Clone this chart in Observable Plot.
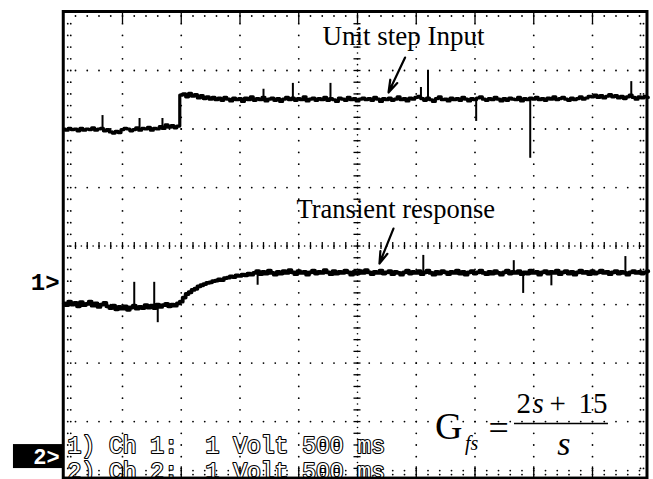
<!DOCTYPE html>
<html><head><meta charset="utf-8">
<script src="https://cdn.jsdelivr.net/npm/d3@7"></script>
<script src="https://cdn.jsdelivr.net/npm/@observablehq/plot@0.6"></script>
<style>
html,body{margin:0;padding:0;background:#fff;}
#chart svg{display:block;}
svg text{white-space:pre;}
</style>
</head><body><div id="chart"></div>
<script>
// ---- scope settings ----
const sampleInterval = 0.025;         // s between samples
const timeDivisions = [0,0.5,1,1.5,2,2.5,3,3.5,4,4.5,5]; // s, 500 ms/div
const voltDivisions = [-4,-3,-2,-1,0,1,2,3,4];           // V, 1 V/div

// ---- Ch 1 : unit step input (V) ----
const inputTrace = [
  2.00,1.98,2.01,1.99,2.00,1.97,2.01,1.98,2.00,1.99,
  2.02,1.98,2.00,2.01,1.97,1.99,1.95,1.93,1.96,1.94,
  1.99,2.01,2.00,1.97,1.99,2.02,1.98,2.01,2.00,2.03,
  1.98,2.01,2.00,2.04,2.01,2.07,2.03,2.06,2.02,2.05,
  2.58,2.60,2.55,2.61,2.56,2.59,2.53,2.57,2.52,2.55,
  2.51,2.54,2.50,2.53,2.49,2.54,2.51,2.48,2.53,2.50,
  2.52,2.47,2.53,2.50,2.55,2.49,2.52,2.50,2.54,2.48,
  2.51,2.53,2.49,2.52,2.47,2.51,2.54,2.50,2.53,2.49,
  2.52,2.50,2.55,2.48,2.51,2.53,2.49,2.52,2.50,2.54,
  2.49,2.52,2.50,2.47,2.53,2.51,2.49,2.54,2.50,2.52,
  2.48,2.51,2.53,2.50,2.52,2.49,2.54,2.51,2.47,2.52,
  2.50,2.53,2.49,2.51,2.55,2.50,2.52,2.48,2.53,2.51,
  2.54,2.56,2.52,2.49,2.53,2.50,2.47,2.52,2.55,2.50,
  2.51,2.48,2.53,2.50,2.52,2.49,2.54,2.51,2.48,2.52,
  2.50,2.53,2.55,2.51,2.49,2.52,2.50,2.54,2.51,2.48,
  2.52,2.49,2.53,2.51,2.50,2.54,2.48,2.52,2.50,2.53,
  2.51,2.54,2.50,2.52,2.49,2.53,2.51,2.55,2.50,2.52,
  2.54,2.51,2.49,2.53,2.50,2.52,2.55,2.51,2.53,2.56,
  2.55,2.58,2.54,2.57,2.53,2.56,2.59,2.55,2.57,2.53,
  2.56,2.52,2.55,2.58,2.54,2.51,2.55,2.53,2.56,2.54
];
const inputSpikeTimes = [0.33,0.645,0.84,1.70,1.95,2.27,3.04,3.10,3.51,3.97,4.83];
const inputSpikeTips  = [2.23,2.18,2.18,2.68,2.78,2.78,2.71,3.00,2.13,1.50,2.81];

// ---- Ch 2 : transient response (V) ----
const responseTrace = [
  -0.98,-1.01,-0.95,-1.00,-0.97,-1.03,-0.96,-1.01,-0.99,-0.95,
  -1.02,-0.98,-1.04,-1.00,-0.97,-1.03,-1.06,-1.02,-1.08,-1.04,
  -1.07,-1.03,-1.09,-1.05,-1.02,-1.07,-1.04,-1.06,-1.01,-1.05,
  -1.02,-1.06,-1.00,-1.04,-1.01,-0.99,-1.03,-1.00,-1.02,-0.98,
  -0.95,-0.88,-0.82,-0.79,-0.75,-0.73,-0.69,-0.67,-0.65,-0.63,
  -0.62,-0.60,-0.59,-0.57,-0.58,-0.55,-0.54,-0.52,-0.53,-0.50,
  -0.51,-0.49,-0.50,-0.47,-0.49,
  -0.46,-0.43,-0.48,-0.44,-0.47,-0.42,-0.46,-0.49,-0.44,-0.47,
  -0.43,-0.46,-0.41,-0.45,-0.48,-0.43,-0.46,-0.44,-0.49,-0.45,
  -0.42,-0.47,-0.44,-0.46,-0.41,-0.45,-0.48,-0.43,-0.47,-0.44,
  -0.46,-0.42,-0.45,-0.49,-0.44,-0.47,-0.43,-0.46,-0.41,-0.45,
  -0.48,-0.44,-0.46,-0.42,-0.47,-0.45,-0.43,-0.48,-0.44,-0.46,
  -0.49,-0.45,-0.42,-0.47,-0.44,-0.46,-0.43,-0.48,-0.45,-0.42,
  -0.46,-0.49,-0.44,-0.47,-0.43,-0.45,-0.48,-0.44,-0.46,-0.42,
  -0.47,-0.44,-0.49,-0.45,-0.43,-0.47,-0.45,-0.42,-0.46,-0.48,
  -0.44,-0.47,-0.43,-0.46,-0.49,-0.45,-0.42,-0.47,-0.44,-0.46,
  -0.43,-0.48,-0.45,-0.47,-0.42,-0.46,-0.44,-0.49,-0.45,-0.43,
  -0.47,-0.44,-0.46,-0.42,-0.48,-0.45,-0.43,-0.47,-0.44,-0.49,
  -0.45,-0.42,-0.46,-0.44,-0.48,-0.43,-0.47,-0.45,-0.42,-0.46,
  -0.44,-0.48,-0.45,-0.43,-0.47,-0.44,-0.46,-0.49,-0.45,-0.43,
  -0.46,-0.44,-0.47,-0.45,-0.43
];
const responseSpikeTimes = [0.60,0.77,0.80,1.65,3.06,3.83,3.91,4.15,4.78];
const responseSpikeTips  = [-0.62,-0.62,-1.31,-0.67,-0.16,-0.25,-0.81,-0.68,-0.18];

// ---- texts ----
const annotationTexts = ["Unit step Input","Transient response"];
const channelLabels = ["1) Ch 1:  1 Volt 500 ms","2) Ch 2:  1 Volt 500 ms"];
const channelMarkers = ["1>","2>"];
const formulaParts = {G:"G", sub:"fs", eq:"=", num:["2","s","+","15"], den:"s"};

// ---- build tables ----
const toSeries = arr => arr.map((v,i)=>({t:i*sampleInterval, v}));
const inputData = toSeries(inputTrace);
const responseData = toSeries(responseTrace);
const baseAt = (arr,t) => arr[Math.min(arr.length-1, Math.floor(t/sampleInterval))];
const inputSpikes = inputSpikeTimes.map((t,i)=>({t, y1: baseAt(inputTrace,t), y2: inputSpikeTips[i]}));
const responseSpikes = responseSpikeTimes.map((t,i)=>({t, y1: baseAt(responseTrace,t), y2: responseSpikeTips[i]}));

const tMin = timeDivisions[0], tMax = timeDivisions[timeDivisions.length-1];
const vMin = voltDivisions[0], vMax = voltDivisions[voltDivisions.length-1];
const frameRight = 4.968, frameBottom = -3.974;
const minorT = 0.1, minorV = 0.2;
const tMinors = d3.range(1, Math.round((frameRight - tMin)/minorT)+1).map(i=>+(i*minorT).toFixed(3)).filter(t=>t<frameRight);
const vMinors = d3.range(0, Math.round((vMax-vMin)/minorV)+1).map(j=>+(vMin+j*minorV).toFixed(3)).filter(v=>v>frameBottom && v<vMax);
const majorT = timeDivisions.filter(t=>t>tMin && t<frameRight);
const majorV = voltDivisions.filter(v=>v>vMin && v<vMax);

const gridDots = [];
for (const t of majorT) for (const v of vMinors) gridDots.push({t, v});
for (const v of majorV) for (const t of tMinors) gridDots.push({t, v});
const centerT = 2.5, centerV = 0;
const centerDots = [];
for (const v of vMinors) centerDots.push({t:centerT, v: v+minorV/2});
for (const t of tMinors) centerDots.push({t: t-minorT/2, v:centerV});

const serif = "Liberation Serif";
const chart = Plot.plot({
  width: 653, height: 479,
  marginLeft: 63.25, marginRight: 2.25, marginTop: 11.5, marginBottom: 0,
  x: {domain:[tMin,tMax], axis:null},
  y: {domain:[-3.99,vMax], axis:null},
  style: {background:"white"},
  marks: [
    // grid
    Plot.dot(gridDots, {x:"t", y:"v", r:0.9, fill:"black"}),
    Plot.dot(centerDots, {x:"t", y:"v", r:0.8, fill:"black"}),
    Plot.ruleY(vMinors, {y:d=>d, x1:centerT-0.03, x2:centerT+0.03, stroke:"black", strokeWidth:1.3}),
    Plot.ruleX(tMinors, {x:d=>d, y1:centerV-0.06, y2:centerV+0.06, stroke:"black", strokeWidth:1.3}),
    // border ticks
    Plot.dot(vMinors, {x:tMin, y:d=>d, dx:4, r:0.9, fill:"black"}),
    Plot.dot(vMinors, {x:tMin, y:d=>d, dx:7, r:0.9, fill:"black"}),
    Plot.dot(vMinors, {x:frameRight, y:d=>d, dx:-4, r:0.9, fill:"black"}),
    Plot.dot(vMinors, {x:frameRight, y:d=>d, dx:-7, r:0.9, fill:"black"}),
    Plot.dot(tMinors, {x:d=>d, y:vMax, dy:4, r:0.9, fill:"black"}),
    Plot.ruleX(majorT, {x:d=>d, y1:vMax, y2:vMax-0.2, stroke:"black", strokeWidth:1.3}),
    Plot.dot(tMinors, {x:d=>d, y:frameBottom, dy:-4, r:0.9, fill:"black"}),
    Plot.dot(tMinors, {x:d=>d, y:frameBottom, dy:-8, r:0.9, fill:"black"}),
    Plot.ruleX(majorT, {x:d=>d, y1:frameBottom, y2:frameBottom+0.2, stroke:"black", strokeWidth:1.3}),
    // channel labels (hollow scope font)
    Plot.text([channelLabels[0]], {x:0.032, y:-3.403, text:d=>d, textAnchor:"start", lineAnchor:"middle",
      fontFamily:"Liberation Mono", fontSize:23, fill:"white", stroke:"black", strokeWidth:2.2}),
    Plot.text([channelLabels[1]], {x:0.032, y:-3.848, text:d=>d, textAnchor:"start", lineAnchor:"middle",
      fontFamily:"Liberation Mono", fontSize:23, fill:"white", stroke:"black", strokeWidth:2.2}),
    // frame
    Plot.rect([0], {x1:tMin, x2:frameRight, y1:frameBottom, y2:vMax, fill:"none", stroke:"black", strokeWidth:3}),
    // traces
    Plot.line(inputData, {x:"t", y:"v", curve:"step", stroke:"black", strokeWidth:3.2}),
    Plot.ruleX(inputSpikes, {x:"t", y1:"y1", y2:"y2", stroke:"black", strokeWidth:2}),
    Plot.line(responseData, {x:"t", y:"v", curve:"step", stroke:"black", strokeWidth:3.8}),
    Plot.ruleX(responseSpikes, {x:"t", y1:"y1", y2:"y2", stroke:"black", strokeWidth:2}),
    // annotations
    Plot.text([annotationTexts[0]], {x:2.202, y:3.59, text:d=>d, textAnchor:"start", lineAnchor:"middle",
      fontFamily:serif, fontSize:27, fill:"black"}),
    Plot.text([annotationTexts[1]], {x:1.981, y:0.632, text:d=>d, textAnchor:"start", lineAnchor:"middle",
      fontFamily:serif, fontSize:26.5, fill:"black"}),
    Plot.arrow([{x1:2.905,y1:3.222,x2:2.764,y2:2.624},{x1:2.806,y1:0.299,x2:2.687,y2:-0.299}],
      {x1:"x1", y1:"y1", x2:"x2", y2:"y2", stroke:"black", strokeWidth:2.2, headLength:12, headAngle:35}),
    // formula
    Plot.text([formulaParts.G], {x:3.16, y:-3.09, text:d=>d, textAnchor:"start", lineAnchor:"middle",
      fontFamily:serif, fontSize:38, fill:"black"}),
    Plot.text([formulaParts.sub], {x:3.415, y:-3.38, text:d=>d, textAnchor:"start", lineAnchor:"middle",
      fontFamily:serif, fontStyle:"italic", fontSize:20, fill:"black"}),
    Plot.text([formulaParts.eq], {x:3.702, y:-3.11, text:d=>d, textAnchor:"middle", lineAnchor:"middle",
      fontFamily:serif, fontSize:36, fill:"black"}),
    Plot.ruleY([-3.034], {y:d=>d, x1:3.836, x2:4.636, stroke:"black", strokeWidth:1.6}),
    Plot.text([formulaParts.num[0]], {x:3.853, y:-2.687, text:d=>d, textAnchor:"start", lineAnchor:"middle",
      fontFamily:serif, fontSize:29, fill:"black"}),
    Plot.text([formulaParts.num[1]], {x:3.99, y:-2.687, text:d=>d, textAnchor:"start", lineAnchor:"middle",
      fontFamily:serif, fontStyle:"italic", fontSize:29, fill:"black"}),
    Plot.text([formulaParts.num[2]], {x:4.134, y:-2.687, text:d=>d, textAnchor:"start", lineAnchor:"middle",
      fontFamily:serif, fontSize:29, fill:"black"}),
    Plot.text([formulaParts.num[3]], {x:4.381, y:-2.687, text:d=>d, textAnchor:"start", lineAnchor:"middle",
      fontFamily:serif, fontSize:29, fill:"black"}),
    Plot.text([formulaParts.den], {x:4.2, y:-3.393, text:d=>d, textAnchor:"start", lineAnchor:"middle",
      fontFamily:serif, fontStyle:"italic", fontSize:34, fill:"black"}),
    // channel markers
    Plot.text([channelMarkers[0]], {x:-0.0353, y:-0.624, text:d=>d, textAnchor:"end", lineAnchor:"middle",
      fontFamily:"Liberation Mono", fontWeight:"bold", fontSize:24, fill:"black"}),
    Plot.rect([0], {x1:-0.428, x2:-0.0106, y1:-3.803, y2:-3.393, fill:"black"}),
    Plot.text([channelMarkers[1]], {x:-0.0353, y:-3.598, text:d=>d, textAnchor:"end", lineAnchor:"middle",
      fontFamily:"Liberation Mono", fontWeight:"bold", fontSize:22, fill:"white"})
  ]
});
document.getElementById("chart").appendChild(chart);
</script>
</body></html>
